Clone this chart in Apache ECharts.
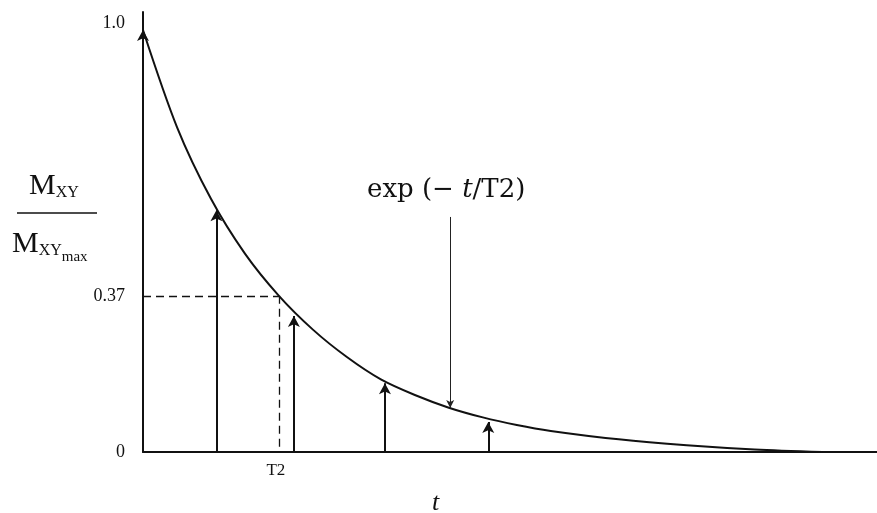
<!DOCTYPE html>
<html><head><meta charset="utf-8">
<script src="https://cdn.jsdelivr.net/npm/echarts@6/dist/echarts.min.js"></script>
<style>html,body{margin:0;padding:0;background:#fff}#c{width:877px;height:513px}</style>
</head><body><div id="c"></div>
<script>
// curve (t in units of T2, value normalized)
var curveT = [0, 0.25, 0.5, 0.75, 1.0, 1.25, 1.5, 1.75, 2.0, 2.25, 2.5, 2.75, 3.0, 3.5, 4.0, 4.5, 5.0];
var curveV = [1.0, 0.77, 0.60, 0.47, 0.37, 0.29, 0.225, 0.172, 0.135, 0.105, 0.082, 0.064, 0.05, 0.03, 0.016, 0.006, 0.0];
// sampling arrows (t, height)
var arrowT = [0, 0.54, 1.11, 1.78, 2.54];
var arrowV = [1.0, 0.573, 0.322, 0.163, 0.071];
// exp label pointer
var pointerT = 2.26;
var pointerFrom = 0.557;
var pointerTo = 0.104;
// reference level
var refT2 = 1.0;
var refLevel = 0.37;
var yTickValues = [0, 0.37, 1.0];
var yTickLabels = ['0', '0.37', '1.0'];
var xTickValues = [1.0];
var xTickLabels = ['T2'];

var chart = echarts.init(document.getElementById('c'));
var serif = '"Liberation Serif","DejaVu Serif",serif';
var wideSerif = '"DejaVu Serif","Liberation Serif",serif';
var curve = curveT.map(function (t, i) { return [t, curveV[i]]; });

var markData = arrowT.map(function (t, i) {
  return [{ coord: [t, 0] }, { coord: [t, arrowV[i]] }];
});

chart.setOption({
  animation: false,
  backgroundColor: '#fff',
  grid: { left: 143, right: 0, top: 12, bottom: 61, outerBoundsMode: 'none', containLabel: false },
  xAxis: {
    type: 'value', min: 0, max: 5.4,
    splitLine: { show: false },
    axisLine: { show: true, onZero: false, lineStyle: { color: '#111', width: 2 } },
    axisTick: { show: false },
    axisLabel: {
      customValues: xTickValues,
      formatter: function (v) { return xTickLabels[xTickValues.indexOf(v)] || ''; },
      color: '#111', fontFamily: serif, fontSize: 17, margin: 10,
      padding: [0, 6, 0, 0]
    }
  },
  yAxis: {
    type: 'value', min: 0, max: 1.0427,
    splitLine: { show: false },
    axisLine: { show: true, lineStyle: { color: '#111', width: 2 } },
    axisTick: { show: false },
    axisLabel: {
      customValues: yTickValues,
      formatter: function (v) {
        var s = yTickLabels[yTickValues.indexOf(v)] || '';
        return v === 1 ? '{hi|' + s + '}' : s;
      },
      rich: { hi: { fontFamily: serif, fontSize: 18, color: '#111', padding: [0, 0, 14, 0] } },
      color: '#111', fontFamily: serif, fontSize: 18, margin: 18
    }
  },
  series: [
    {
      type: 'line', data: curve, smooth: 0.3, symbol: 'none',
      lineStyle: { color: '#111', width: 2 },
      silent: true,
      markLine: {
        silent: true, symbol: ['none', 'arrow'], symbolSize: [9, 11],
        label: { show: false },
        lineStyle: { color: '#111', width: 2, type: 'solid' },
        data: markData
      }
    },
    {
      type: 'line', data: [], silent: true,
      markLine: {
        silent: true, symbol: ['none', 'none'],
        label: { show: false },
        lineStyle: { color: '#111', width: 1.3, type: [8, 5] },
        data: [
          [{ coord: [0, refLevel] }, { coord: [refT2, refLevel] }],
          [{ coord: [refT2, refLevel] }, { coord: [refT2, 0] }]
        ]
      }
    },
    {
      type: 'line', data: [], silent: true,
      markLine: {
        silent: true, symbol: ['none', 'arrow'], symbolSize: [6, 8],
        label: { show: false },
        lineStyle: { color: '#222', width: 1, type: 'solid' },
        data: [[{ coord: [pointerT, pointerFrom] }, { coord: [pointerT, pointerTo] }]]
      }
    }
  ],
  graphic: [
    {
      type: 'text', left: 367, top: 177,
      style: {
        text: '{a|exp (\u2212 }{b|t}{a|/T2)}',
        rich: {
          a: { fontFamily: wideSerif, fontSize: 26, fill: '#111' },
          b: { fontFamily: wideSerif, fontSize: 26, fontStyle: 'italic', fill: '#111' }
        }
      }
    },
    {
      type: 'text', left: 432, top: 490,
      style: { text: 't', fontFamily: serif, fontSize: 26, fontStyle: 'italic', fill: '#111' }
    },
    {
      type: 'text', left: 29, top: 171,
      style: {
        text: '{m|M}{s|XY}',
        rich: {
          m: { fontFamily: serif, fontSize: 30, fill: '#111' },
          s: { fontFamily: serif, fontSize: 16, fill: '#111', padding: [14, 0, 0, 0] }
        }
      }
    },
    {
      type: 'line', shape: { x1: 17, y1: 213, x2: 97, y2: 213 },
      style: { stroke: '#111', lineWidth: 1.5 }
    },
    {
      type: 'text', left: 12, top: 229,
      style: {
        text: '{m|M}{s|XY}{t|max}',
        rich: {
          m: { fontFamily: serif, fontSize: 30, fill: '#111' },
          s: { fontFamily: serif, fontSize: 16, fill: '#111', padding: [14, 0, 0, 0] },
          t: { fontFamily: serif, fontSize: 15, fill: '#111', padding: [26, 0, 0, 0] }
        }
      }
    }
  ]
});
</script></body></html>
